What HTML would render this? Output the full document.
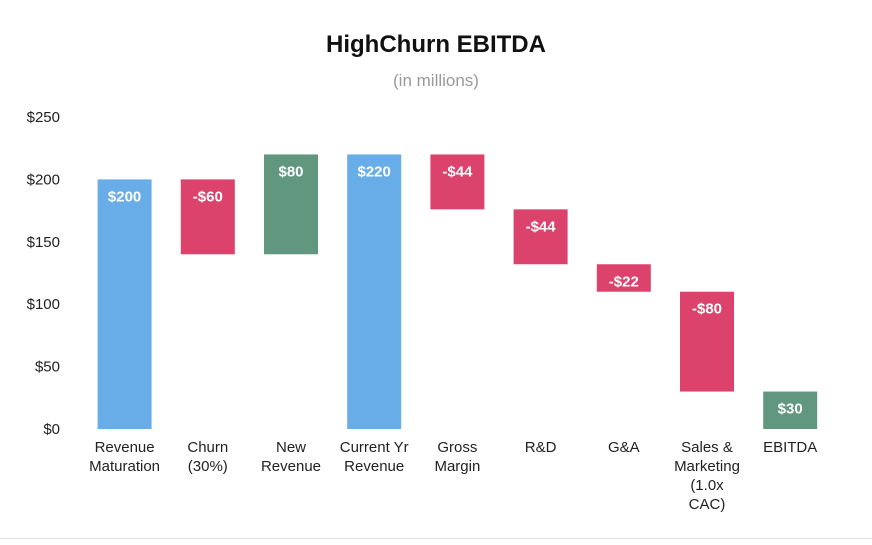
<!DOCTYPE html>
<html><head><meta charset="utf-8"><style>
body{margin:0;background:#fff;font-family:"Liberation Sans",sans-serif}
svg text{font-family:"Liberation Sans",sans-serif}
</style></head><body>
<svg width="872" height="540">
<text x="436" y="52" text-anchor="middle" font-size="24" font-weight="bold" fill="#111">HighChurn EBITDA</text>
<text x="436" y="86" text-anchor="middle" font-size="17" fill="#999">(in millions)</text>
<g id="yaxis"></g>
<g id="bars"></g>
<g id="xaxis"></g>
<line x1="0" y1="538.5" x2="872" y2="538.5" stroke="#ddd"/>
</svg>
<script>
const categories=[["Revenue","Maturation"],["Churn","(30%)"],["New","Revenue"],["Current Yr","Revenue"],["Gross","Margin"],["R&D"],["G&A"],["Sales &","Marketing","(1.0x","CAC)"],["EBITDA"]];
const deltas=[200,-60,80,220,-44,-44,-22,-80,30];
const isTotal=[true,false,false,true,false,false,false,false,true];
const valueLabels=["$200","-$60","$80","$220","-$44","-$44","-$22","-$80","$30"];
const yTicks=[0,50,100,150,200,250];
const yTickLabels=["$0","$50","$100","$150","$200","$250"];
const NS="http://www.w3.org/2000/svg";
const y0=429,yTop=117,yMax=250,x0=83,bandW=83.2,barW=54;
const y=v=>y0-(v/yMax)*(y0-yTop);
const xc=i=>x0+bandW*(i+0.5);
function mk(t,a,p){const e=document.createElementNS(NS,t);for(const k in a)e.setAttribute(k,a[k]);p.appendChild(e);return e;}
const ya=document.getElementById('yaxis');
yTicks.forEach((v,i)=>{const t=mk('text',{x:60,y:y(v)+5,'text-anchor':'end','font-size':15,fill:'#222'},ya);


t.textContent=yTickLabels[i];});
const bg=document.getElementById('bars'),xa=document.getElementById('xaxis');
let run=0;
deltas.forEach((d,i)=>{let a,b,col;
if(isTotal[i]){a=0;b=d;run=d;col='#68ade8';if(i==deltas.length-1)col='#62977f';}
else{a=run;b=run+d;run=b;col=d<0?'#dc436c':'#62977f';}
const top=y(Math.max(a,b)),bot=y(Math.min(a,b));
const r=mk('rect',{x:xc(i)-barW/2,y:top,width:barW,height:bot-top,fill:col},bg);


const t=mk('text',{x:xc(i),y:top+22,'text-anchor':'middle','font-size':15,'font-weight':'bold',fill:'#fff'},bg);


t.textContent=valueLabels[i];
categories[i].forEach((ln,j)=>{const c=mk('text',{x:xc(i),y:452+j*19,'text-anchor':'middle','font-size':15,fill:'#222'},xa);


c.textContent=ln;});
});
</script>
</body></html>
